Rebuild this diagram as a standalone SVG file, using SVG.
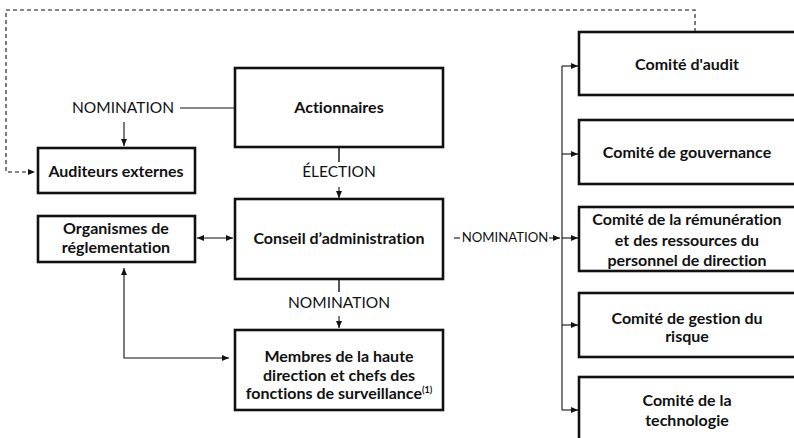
<svg xmlns="http://www.w3.org/2000/svg" width="794" height="438" viewBox="0 0 794 438">
<defs>
<marker id="ah" markerWidth="8" markerHeight="8" refX="7" refY="4" orient="auto-start-reverse" markerUnits="userSpaceOnUse">
<path d="M0,1 L7,4 L0,7 Z" fill="#111"/>
</marker>
<style>
.box{fill:#fff;stroke:#111;stroke-width:2.6}
.lbl{font-family:Lato,"Open Sans","Liberation Sans",sans-serif;font-weight:700;font-size:16px;fill:#111;text-anchor:middle;font-variant-ligatures:none}
.rel{font-family:Lato,"Open Sans","Liberation Sans",sans-serif;font-weight:400;font-size:15.5px;fill:#111;text-anchor:middle;font-variant-ligatures:none}
.ln{fill:none;stroke:#111;stroke-width:1.1}
.gr{fill:none;stroke:#555;stroke-width:2}
.dash{fill:none;stroke:#111;stroke-width:1.1;stroke-dasharray:4 3}
</style>
</defs>
<rect width="794" height="438" fill="#fff"/>
<g id="connectors">
<path class="dash" d="M695,32 V10 H6 V172 H35" marker-end="url(#ah)"/>
<path class="ln" d="M180,108 H236"/>
<path class="ln" d="M124,122 V146" marker-end="url(#ah)"/>
<path class="gr" d="M339,148 V162"/>
<path class="ln" d="M339,187 V198" marker-end="url(#ah)"/>
<path class="ln" d="M197,238 H233" marker-start="url(#ah)" marker-end="url(#ah)"/>
<path class="gr" d="M339,280 V292"/>
<path class="ln" d="M339,316 V328" marker-end="url(#ah)"/>
<path class="ln" d="M124,268 V358 H229" marker-start="url(#ah)" marker-end="url(#ah)"/>
<path class="ln" d="M454,238 H460"/>
<path class="ln" d="M549,238 H560" marker-end="url(#ah)"/>
<path class="ln" d="M562,66 V410"/>
<path class="ln" d="M562,66 H578" marker-end="url(#ah)"/>
<path class="ln" d="M562,154 H578" marker-end="url(#ah)"/>
<path class="ln" d="M562,238 H578" marker-end="url(#ah)"/>
<path class="ln" d="M562,325 H578" marker-end="url(#ah)"/>
<path class="ln" d="M562,410 H578" marker-end="url(#ah)"/>
<text class="rel" x="123" y="113">NOMINATION</text>
<text class="rel" x="339" y="177">ÉLECTION</text>
<text class="rel" x="339" y="308">NOMINATION</text>
<text class="rel" x="505" y="242" style="font-size:13.2px">NOMINATION</text>
</g>
<g id="actionnaires">
<rect class="box" x="235" y="68" width="208" height="79"/>
<text class="lbl" x="339" y="113">Actionnaires</text>
</g>
<g id="auditeurs">
<rect class="box" x="38" y="148" width="157" height="45"/>
<text class="lbl" x="116" y="177">Auditeurs externes</text>
</g>
<g id="conseil">
<rect class="box" x="235" y="199" width="208" height="80"/>
<text class="lbl" x="339" y="244">Conseil d’administration</text>
</g>
<g id="organismes">
<rect class="box" x="38" y="216" width="157" height="46"/>
<text class="lbl" x="116" y="234">Organismes de</text>
<text class="lbl" x="116" y="253">réglementation</text>
</g>
<g id="membres">
<rect class="box" x="235" y="330" width="208" height="80"/>
<text class="lbl" x="339" y="362">Membres de la haute</text>
<text class="lbl" x="339" y="381">direction et chefs des</text>
<text class="lbl" x="339" y="399">fonctions de surveillance<tspan font-size="9" dy="-6">(1)</tspan></text>
</g>
<g id="audit">
<rect class="box" x="579" y="32" width="220" height="63"/>
<text class="lbl" x="687" y="70">Comité d'audit</text>
</g>
<g id="gouvernance">
<rect class="box" x="579" y="120" width="220" height="64"/>
<text class="lbl" x="687" y="158">Comité de gouvernance</text>
</g>
<g id="remuneration">
<rect class="box" x="579" y="207" width="220" height="64"/>
<text class="lbl" x="687" y="225">Comité de la rémunération</text>
<text class="lbl" x="687" y="246">et des ressources du</text>
<text class="lbl" x="687" y="266">personnel de direction</text>
</g>
<g id="risque">
<rect class="box" x="579" y="293" width="220" height="64"/>
<text class="lbl" x="687" y="324">Comité de gestion du</text>
<text class="lbl" x="687" y="342">risque</text>
</g>
<g id="technologie">
<rect class="box" x="579" y="377" width="220" height="80"/>
<text class="lbl" x="687" y="406">Comité de la</text>
<text class="lbl" x="687" y="426">technologie</text>
</g>
</svg>
